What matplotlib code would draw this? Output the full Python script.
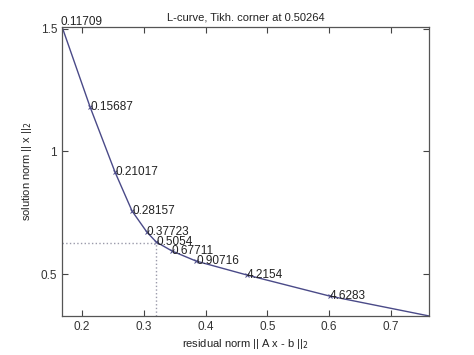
import matplotlib
matplotlib.use("Agg")
import matplotlib.pyplot as plt

plt.rcParams['font.family'] = ['Liberation Sans', 'DejaVu Sans']

# L-curve points (residual norm, solution norm) with reg. parameter labels
rho = [0.165, 0.213, 0.2534, 0.281, 0.305, 0.320, 0.3456, 0.3845, 0.467, 0.601, 0.7615]
eta = [1.528, 1.182, 0.916, 0.757, 0.671, 0.631, 0.594, 0.553, 0.496, 0.410, 0.329]
labels = ['0.11709', '0.15687', '0.21017', '0.28157', '0.37723', '0.5054',
          '0.67711', '0.90716', '4.2154', '4.6283', '']

# Tikhonov corner
corner_rho = 0.3197
corner_eta = 0.627

line_col = '#4a4a88'
fs = 8

fig = plt.figure(figsize=(4.74, 3.55), dpi=100)
ax = fig.add_axes([0.1308, 0.110, 0.7743, 0.814])

ax.plot(rho, eta, '-', color=line_col, lw=1.0)
ax.plot(rho[:-1], eta[:-1], 'x', color=line_col, ms=3, mew=0.7)
for r, e, s in zip(rho, eta, labels):
    if s:
        ax.text(r, e, s, ha='left', va='center', fontsize=fs + 0.5, color='#222222')

xmin, xmax = 0.1676, 0.7615
ymin, ymax = 0.329, 1.508
ax.plot([xmin, corner_rho, corner_rho], [corner_eta, corner_eta, ymin],
        ':', color='#9a9aaa', lw=1.0)

ax.set_xlim(xmin, xmax)
ax.set_ylim(ymin, ymax)
ax.set_xticks([0.2, 0.3, 0.4, 0.5, 0.6, 0.7])
ax.set_yticks([0.5, 1, 1.5])
ax.set_yticklabels(['0.5', '1', '1.5'])
ax.tick_params(direction='in', top=True, right=True, labelsize=fs + 0.5,
               length=4, width=0.8, colors='#444444', labelcolor='#333333')
for sp in ax.spines.values():
    sp.set_color('#555555')
    sp.set_linewidth(0.9)

ax.set_title('L-curve, Tikh. corner at 0.50264', fontsize=fs, color='#222222', pad=5)
ax.set_xlabel(r'residual norm || A x - b ||$_2$', fontsize=fs, color='#222222', labelpad=3)
ax.set_ylabel(r'solution norm || x ||$_2$', fontsize=fs, color='#222222', labelpad=5)

fig.savefig('out.png', dpi=100)
